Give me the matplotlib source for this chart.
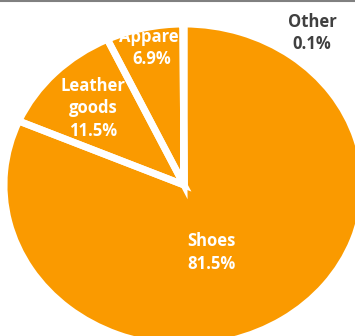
import matplotlib.pyplot as plt
from matplotlib.lines import Line2D

# data
categories = ["Shoes", "Leather goods", "Apparel", "Other"]
shares = [81.5, 11.5, 6.9, 0.1]

# label layout (in units of pie radius) and colours
label_text = ["Shoes\n81.5%", "Leather\ngoods\n11.5%", "Apparel\n6.9%", "Other\n0.1%"]
label_pos = [(0.15, -0.42), (-0.506, 0.478), (-0.18, 0.85), (0.711, 0.944)]
label_color = ["white", "white", "white", "#404040"]
orange = "#FA9A00"

W, H = 355, 336
fig = plt.figure(figsize=(W / 100, H / 100), dpi=100)

# pie is drawn squashed like the original (wider than tall)
cx, cy = 184, 151
rx, ry = 180, 161
ax = fig.add_axes([(cx - rx) / W, (cy - ry) / H, 2 * rx / W, 2 * ry / H])

wedges, _ = ax.pie(shares, startangle=90, counterclock=False,
                   colors=[orange] * len(shares),
                   wedgeprops=dict(linewidth=0))

for i, txt in enumerate(label_text):
    t = ax.text(label_pos[i][0], label_pos[i][1], txt, ha="center", va="center",
                color=label_color[i], fontsize=12, fontweight="bold",
                family="Open Sans", linespacing=1.32, zorder=3)
    if label_color[i] == "white":
        t.set_clip_path(wedges[i])

# white separators on top of labels
ax.pie(shares, startangle=90, counterclock=False,
       wedgeprops=dict(facecolor="none", edgecolor="white", linewidth=5, zorder=4))

ax.set_aspect("auto")
ax.set_xlim(-1, 1)
ax.set_ylim(-1, 1)
ax.axis("off")

fig.add_artist(Line2D([0, 1], [1 - 0.5 / H, 1 - 0.5 / H], color="#808080", linewidth=1.5))

fig.savefig("out.png", dpi=100)
